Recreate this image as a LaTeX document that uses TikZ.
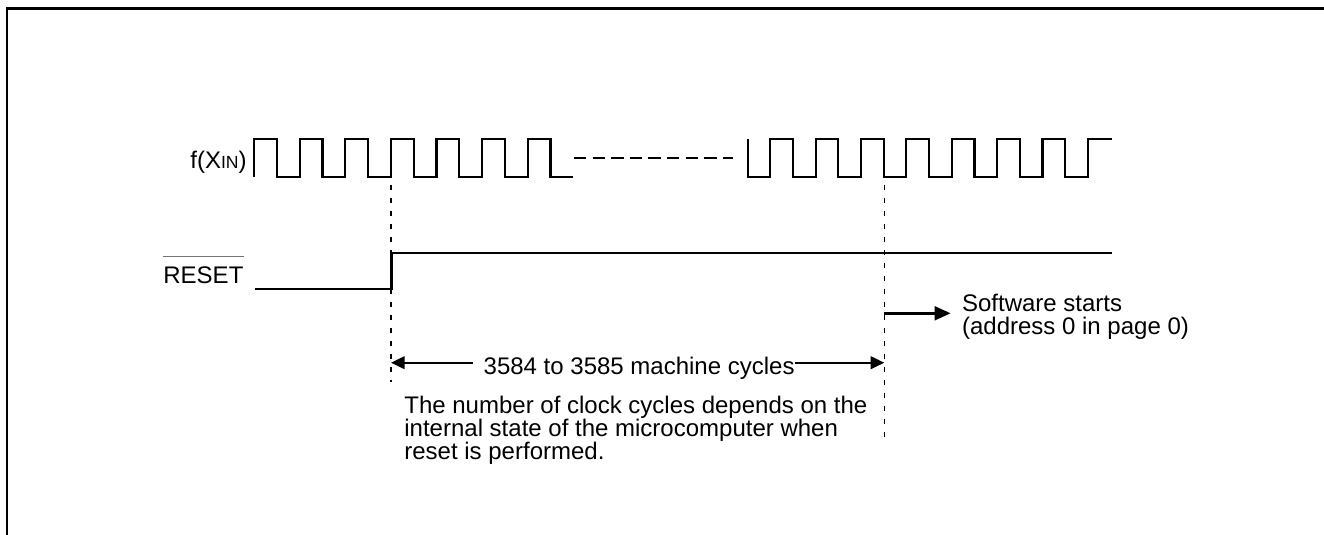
\documentclass[tikz,border=0pt]{standalone}
\usepackage{fontspec}
\setmainfont{Liberation Sans}
\usetikzlibrary{arrows.meta}
\begin{document}
\begin{tikzpicture}[x=0.5pt,y=-0.5pt,
  every node/.style={inner sep=0pt, font=\fontsize{12}{11.5}\selectfont},
  frame/.style={line width=1.2pt},
  wave/.style={line width=1.1pt, line join=miter},
  gap/.style={line width=1.1pt, dash pattern=on 6.2pt off 3.1pt},
  guide/.style={line width=0.65pt, dash pattern=on 2.5pt off 4pt},
  span/.style={line width=1pt, -{Triangle[length=6.8pt,width=6.3pt]}},
  start/.style={line width=1.5pt, -{Triangle[length=8pt,width=6.8pt]}},
  ovl/.style={line width=0.6pt, black!55}]

\useasboundingbox (0,0) rectangle (1324,535);

% open frame: top and left edges
\draw[frame] (7,535) -- (7,8.7) -- (1324,8.7);

% signal names
\node[anchor=base east] (clk) at (247,169) {f(X{\fontsize{8.8}{9}\selectfont IN})};
\node[anchor=base west] (rst) at (163,283.5) {RESET};
\draw[ovl] ([yshift=4.8pt]rst.north west) -- ([yshift=4.8pt]rst.north east);

% clock, first burst
\draw[wave] (254,177) foreach \k in {1,...,7} { -- ++(0,-38) -- ++(22.8,0) -- ++(0,38) -- ++(22.8,0) };
% omitted cycles
\draw[gap] (574,158) -- (733,158);
% clock, second burst
\draw[wave] (747.7,139) -- ++(0,38)
  foreach \k in {1,...,7} { -- ++(22.67,0) -- ++(0,-38) -- ++(22.67,0) -- ++(0,38) }
  -- ++(22.67,0) -- ++(0,-38) -- ++(24,0);

% reset line
\draw[wave] (255,289.3) -- (391.5,289.3) -- (391.5,252.7) -- (1111.7,252.7);

% timing guides
\coordinate (g1t) at (391,185);
\coordinate (g1b) at (391,382);
\coordinate (g2t) at (884.3,185);
\coordinate (g2b) at (884.3,440);
\draw[guide] (g1t) -- (g1b);
\draw[guide] (g2t) -- (g2b);

% reset duration
\node[anchor=base west] (cyc) at (483.3,374) {3584 to 3585 machine cycles};
\coordinate (m1) at (391,362.7);
\coordinate (m2) at (884.3,362.7);
\coordinate (c1) at ([xshift=-5pt]cyc.west);
\draw[span] (c1 |- m1) -- (m1);
\draw[span] (cyc.east |- m2) -- (m2);

% program start
\coordinate (s0) at (884.3,313.3);
\node[anchor=north west, align=left] (sw) at (961.7,293.5) {Software starts\\(address 0 in page 0)};
\coordinate (s1) at ([xshift=-5.5pt]sw.west);
\draw[start] (s0) -- (s1 |- s0);

% note
\node[anchor=north west, align=left] (note) at (404,395.5) {The number of clock cycles depends on the\\internal state of the microcomputer when\\reset is performed.};
\end{tikzpicture}
\end{document}
